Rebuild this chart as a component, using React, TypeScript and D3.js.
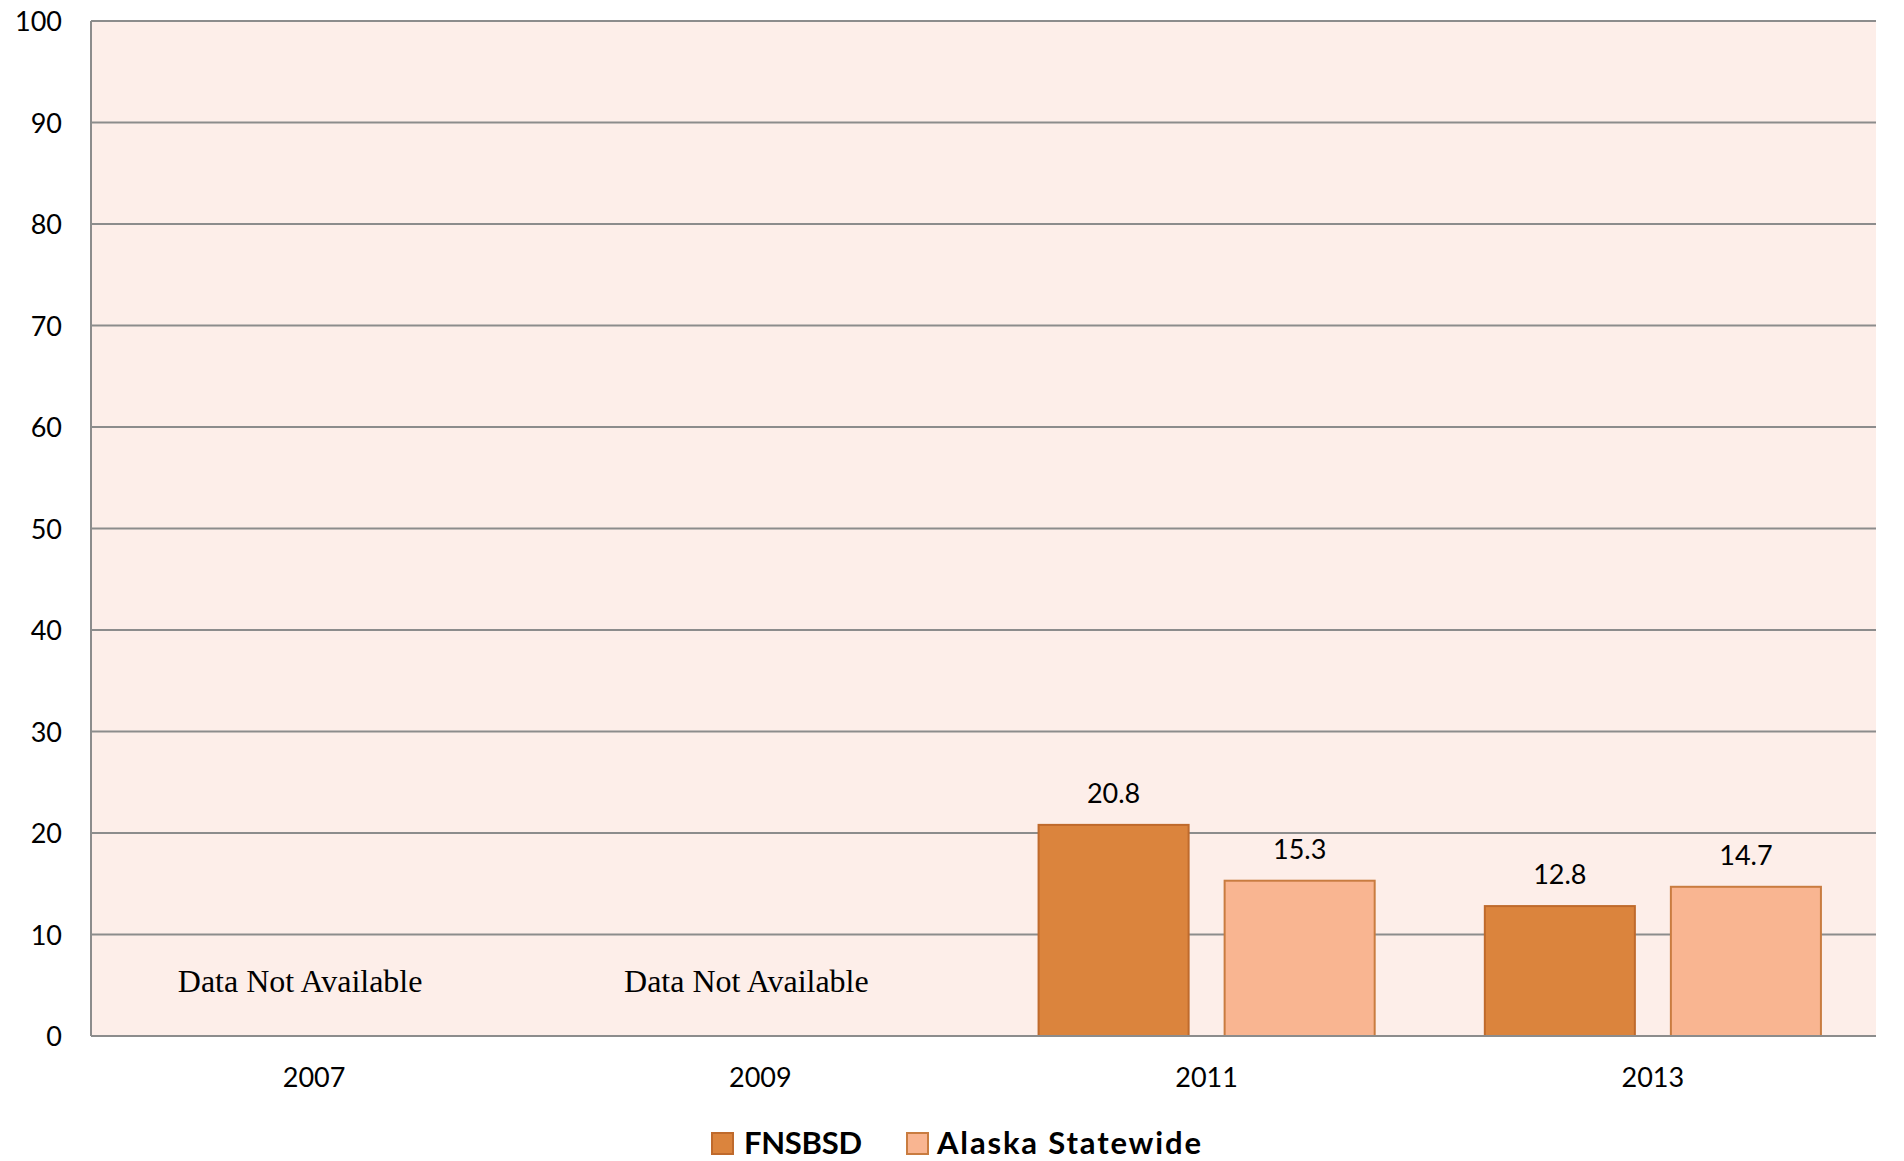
import React from "react";
import * as d3 from "d3";

const years = ["2007", "2009", "2011", "2013"];
const seriesNames = ["FNSBSD", "Alaska Statewide"];
const fnsbsd: (number | null)[] = [null, null, 20.8, 12.8];
const alaska: (number | null)[] = [null, null, 15.3, 14.7];
const yTicks = [0, 10, 20, 30, 40, 50, 60, 70, 80, 90, 100];
const naLabel = "Data Not Available";

const fills = ["#DB843D", "#F9B591"];
const strokes = ["#BF6A2C", "#C97C40"];

export default function App() {
  React.useEffect(() => {
    document.body.style.margin = "0";
  }, []);
  const W = 1904, H = 1161;
  const left = 91, right = 1876, top = 21, bottom = 1036;
  const x = d3.scaleBand<string>().domain(years).range([left, right]).paddingInner(0).paddingOuter(0);
  const xs = d3.scaleBand<string>().domain(seriesNames).range([0, x.bandwidth()]).paddingInner(0.1935).paddingOuter(0.296);
  const y = d3.scaleLinear().domain([0, 100]).range([bottom, top]);
  const data = [fnsbsd, alaska];
  const font = "Lato, 'Open Sans', sans-serif";

  return (
    <svg width={W} height={H} style={{ display: "block" }}>
      <rect x={0} y={0} width={W} height={H} fill="#ffffff" />
      <rect x={left} y={top} width={right - left} height={bottom - top} fill="#FDEEE9" />
      {yTicks.map((t) => (
        <line key={"g" + t} x1={left} x2={right} y1={y(t)} y2={y(t)} stroke="#8C8C8C" strokeWidth={2} />
      ))}
      <line x1={left} x2={left} y1={top} y2={bottom} stroke="#8C8C8C" strokeWidth={2} />
      {yTicks.map((t) => (
        <text key={"t" + t} x={62} y={y(t) + 10} textAnchor="end" fontFamily={font} fontSize={27} fill="#000">
          {t}
        </text>
      ))}
      {years.map((yr) => (
        <text key={"x" + yr} x={(x(yr) as number) + x.bandwidth() / 2} y={1087} textAnchor="middle" fontFamily={font} fontSize={27} fill="#000">
          {yr}
        </text>
      ))}
      {years.map((yr, i) =>
        data[0][i] == null && data[1][i] == null ? (
          <text key={"na" + yr} x={(x(yr) as number) + x.bandwidth() / 2 - 14} y={992} textAnchor="middle" fontFamily="'Liberation Serif', 'Times New Roman', serif" fontSize={32} fill="#000">
            {naLabel}
          </text>
        ) : null
      )}
      {seriesNames.map((s, si) =>
        years.map((yr, i) => {
          const v = data[si][i];
          if (v == null) return null;
          const bx = (x(yr) as number) + (xs(s) as number);
          return (
            <g key={s + yr}>
              <rect x={bx} y={y(v)} width={xs.bandwidth()} height={y(0) - y(v)} fill={fills[si]} stroke={strokes[si]} strokeWidth={2} />
              <text x={bx + xs.bandwidth() / 2} y={y(v) - 22} textAnchor="middle" fontFamily={font} fontSize={27} fill="#000">
                {v.toFixed(1)}
              </text>
            </g>
          );
        })
      )}
      <line x1={left} x2={right} y1={bottom} y2={bottom} stroke="#8C8C8C" strokeWidth={2} />
      <g>
        <rect x={712} y={1133} width={21} height={21} fill={fills[0]} stroke={strokes[0]} strokeWidth={2} />
        <text x={744} y={1154} fontFamily={font} fontWeight="bold" fontSize={31} fill="#000" textLength={118} lengthAdjust="spacing">{seriesNames[0]}</text>
        <rect x={907} y={1133} width={21} height={21} fill={fills[1]} stroke={strokes[1]} strokeWidth={2} />
        <text x={937} y={1154} fontFamily={font} fontWeight="bold" fontSize={31} fill="#000" textLength={264} lengthAdjust="spacing">{seriesNames[1]}</text>
      </g>
    </svg>
  );
}
